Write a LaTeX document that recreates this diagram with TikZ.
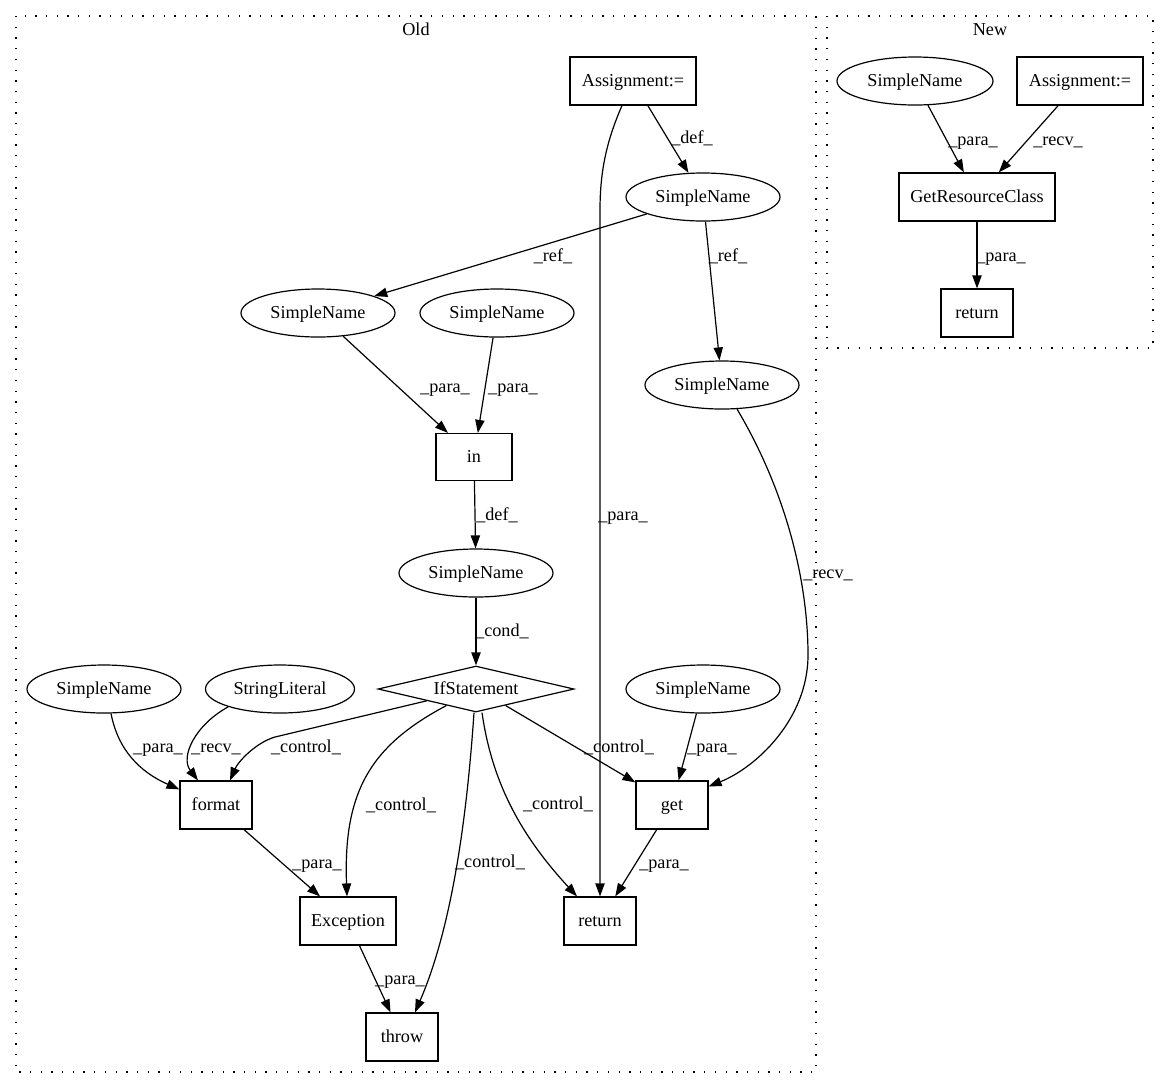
\documentclass[tikz,border=0pt]{standalone}
\usepackage{fontspec}
\setmainfont{Liberation Serif}
\usetikzlibrary{shapes.geometric,arrows.meta,calc}
\begin{document}
\begin{tikzpicture}[x=1pt,y=-1pt,
  every node/.style={font=\fontsize{18.2}{22}\selectfont, text height=12.5pt, text depth=1.5pt, inner sep=0pt},
  ell/.style={draw, line width=1.2pt, ellipse, minimum width=154pt, minimum height=48pt},
  box/.style={draw, line width=1.2pt, rectangle, minimum height=48pt},
  dia/.style={draw, line width=1.2pt, diamond, aspect=4.26, minimum width=196pt, minimum height=46pt},
  lbl/.style={},
  edge/.style={draw, line width=1.2pt, -{Triangle[length=13pt,width=9.3pt]}},
  clus/.style={draw, line width=1.3pt, dash pattern=on 1.3pt off 9.4pt}
]
\useasboundingbox (0,0) rectangle (1169,1088);
\fill[white] (0,0) rectangle (1169,1088);
% clusters
\draw[clus] (16,16) rectangle (816,1072);
\draw[clus] (827,16) rectangle (1153,348);
\node (oldlbl) at (416,30) {Old};
\node (newlbl) at (990,30) {New};
% old nodes
\node[box, minimum width=126pt] (ao) at (633,81) {Assignment:=};
\node[ell] (sa) at (703,197) {SimpleName};
\node[ell] (sb) at (318,313) {SimpleName};
\node[ell] (sc) at (497,313) {SimpleName};
\node[ell] (sd) at (722,385) {SimpleName};
\node[box, minimum width=76pt, minimum height=47pt] (inN) at (474,457) {in};
\node[ell] (se) at (476,573) {SimpleName};
\node[dia] (ifs) at (476,689) {IfStatement};
\node[ell] (sf) at (104,689) {SimpleName};
\node[ell, minimum width=149pt] (sl) at (280,689) {StringLiteral};
\node[ell] (sg) at (703,689) {SimpleName};
\node[box, minimum width=72pt] (fmt) at (216,805) {format};
\node[box, minimum width=72pt] (get) at (672,805) {get};
\node[box, minimum width=96pt] (exc) at (348,921) {Exception};
\node[box, minimum width=72pt] (ro) at (600,921) {return};
\node[box, minimum width=72pt] (thr) at (402,1037) {throw};
% new nodes
\node[ell, minimum width=156pt] (sn) at (915,81) {SimpleName};
\node[box, minimum width=126pt] (an) at (1080,81) {Assignment:=};
\node[box, minimum width=156pt] (grc) at (977,197) {GetResourceClass};
\node[box, minimum width=72pt] (rn) at (977,313) {return};
% old edges
\draw[edge] (ao) -- (sa);
\draw[edge] ([xshift=-11pt]ao.south) .. controls (607,140) and (600,170) .. (600,210) -- (ro.north);
\draw[edge] (sa) -- (sb);
\draw[edge] (sa) -- (sd);
\draw[edge] (sb) -- (inN);
\draw[edge] (sc) -- (inN);
\draw[edge] (sd.-58) .. controls (788,495) and (808,585) .. (808,655) .. controls (808,720) and (755,768) .. ([yshift=-6pt]get.north east);
\draw[edge] (inN) -- (se);
\draw[edge] (se) -- (ifs);
\draw[edge] (ifs.south west) -- (275,737) .. controls (255,743) and (238,762) .. ([xshift=14pt]fmt.north);
\draw[edge] ($(ifs.south)!0.3!(ifs.west)$) .. controls (372,745) and (343,790) .. ([xshift=-1pt]exc.north);
\draw[edge] ([xshift=-2pt]ifs.south) .. controls (468,800) and (455,920) .. ([xshift=13pt]thr.north);
\draw[edge] ([xshift=6pt]ifs.south) .. controls (493,790) and (527,842) .. ([xshift=-23pt]ro.north);
\draw[edge] ($(ifs.south)!0.3!(ifs.east)$) -- ([yshift=-2pt]get.north west);
\draw[edge] (sg) -- (get);
\draw[edge] (sf.-74) .. controls (118,750) and (140,772) .. ([yshift=-9pt]fmt.north west);
\draw[edge] (sl.-161) .. controls (195,725) and (180,757) .. ([xshift=-18pt]fmt.north);
\draw[edge] (fmt) -- (exc);
\draw[edge] (exc) -- (thr);
\draw[edge] (get) -- (ro);
% new edges
\draw[edge] (sn) -- (grc);
\draw[edge] (an) -- (grc);
\draw[edge] (grc) -- (rn);
% labels
\node[lbl] (l1) at (692,138) {\_def\_};
\node[lbl] (l2) at (623,515) {\_para\_};
\node[lbl] (l3) at (553,256) {\_ref\_};
\node[lbl] (l4) at (728,256) {\_ref\_};
\node[lbl] (l5) at (445,387) {\_para\_};
\node[lbl] (l6) at (513,387) {\_para\_};
\node[lbl] (l7) at (828,573) {\_recv\_};
\node[lbl] (l8) at (497,515) {\_def\_};
\node[lbl] (l9) at (502,631) {\_cond\_};
\node[lbl] (l10) at (306,747) {\_control\_};
\node[lbl] (l11) at (401,805) {\_control\_};
\node[lbl] (l12) at (490,862) {\_control\_};
\node[lbl] (l13) at (558,804) {\_control\_};
\node[lbl] (l14) at (619,747) {\_control\_};
\node[lbl] (l15) at (712,747) {\_para\_};
\node[lbl] (l16) at (158,747) {\_para\_};
\node[lbl] (l17) at (216,747) {\_recv\_};
\node[lbl] (l18) at (317,863) {\_para\_};
\node[lbl] (l19) at (400,979) {\_para\_};
\node[lbl] (l20) at (664,863) {\_para\_};
\node[lbl] (l21) at (973,140) {\_para\_};
\node[lbl] (l22) at (1058,140) {\_recv\_};
\node[lbl] (l23) at (1001,256) {\_para\_};
\end{tikzpicture}
\end{document}
